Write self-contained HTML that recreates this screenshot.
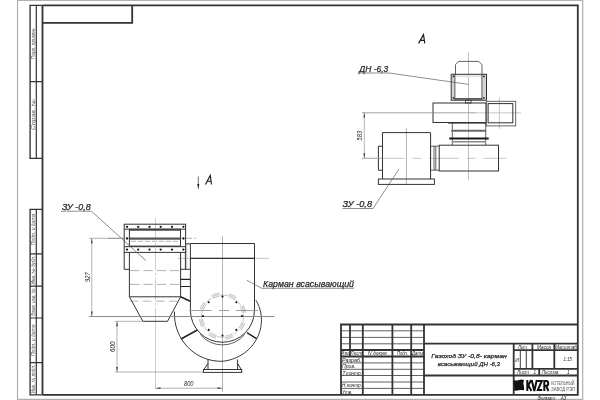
<!DOCTYPE html>
<html><head><meta charset="utf-8">
<style>
html,body{margin:0;padding:0;background:#fff;width:600px;height:400px;overflow:hidden}
svg{display:block;will-change:transform}
text{font-family:"Liberation Sans",sans-serif;font-style:italic;fill:#222}
.up{font-style:normal}
.st text{fill:#555}
.lb{stroke:#2a2a2a;stroke-width:0.25}
.k{stroke:#333;stroke-width:1.8;fill:none}
.m{stroke:#333;stroke-width:1;fill:none}
.t{stroke:#3a3a3a;stroke-width:0.8;fill:none}
.g{stroke:#b0b0b0;stroke-width:1.2;fill:none}
.c{stroke:#666;stroke-width:0.5;fill:none}
</style></head>
<body>
<svg width="600" height="400" viewBox="0 0 600 400">

<path class="g" d="M17.5 0V400M582.7 0V400M17.5 0.3H582.7M17.5 399.4H582.7"/>
<path class="k" d="M42.5 5.3H577.8V394.8H42.5"/>
<path class="k" d="M42.5 5.3V394.8"/>
<path class="k" style="stroke-width:1.35" d="M42.5 5.3H30.1V158.4H42.5M42.5 394.8H30.1V209.3H42.5"/>
<path class="k" style="stroke-width:1.2" d="M36.3 5.3V158.3M30 81.6H42.5"/>
<path class="k" style="stroke-width:1.2" d="M36.3 209.3V394.7M30 253.8H42.5M30 286.2H42.5M30 318H42.5M30 362.6H42.5"/>
<path class="k" d="M42.5 22.9H132.2V5.3"/>
<g class="st"><text transform="translate(34.9 43.3) rotate(-90)" text-anchor="middle" font-size="4.8" textLength="32" lengthAdjust="spacingAndGlyphs">Перв. примен.</text><text transform="translate(34.9 114.5) rotate(-90)" text-anchor="middle" font-size="4.8" textLength="31" lengthAdjust="spacingAndGlyphs">Справ. №</text><text transform="translate(34.9 229.4) rotate(-90)" text-anchor="middle" font-size="4.8" textLength="31.5" lengthAdjust="spacingAndGlyphs">Подп. и дата</text><text transform="translate(34.9 270) rotate(-90)" text-anchor="middle" font-size="4.8" textLength="29" lengthAdjust="spacingAndGlyphs">Инв. № дубл.</text><text transform="translate(34.9 302.2) rotate(-90)" text-anchor="middle" font-size="4.8" textLength="27.5" lengthAdjust="spacingAndGlyphs">Взам. инв. №</text><text transform="translate(34.9 340.3) rotate(-90)" text-anchor="middle" font-size="4.8" textLength="31.5" lengthAdjust="spacingAndGlyphs">Подп. и дата</text><text transform="translate(34.9 379) rotate(-90)" text-anchor="middle" font-size="4.8" textLength="28.5" lengthAdjust="spacingAndGlyphs">Инв. № подл.</text></g>
<path class="k" d="M341 394.8V324.5H577.8"/>
<path class="k" d="M350 324.5V356.5M362.8 324.5V394.7M392.4 324.5V394.7M411.2 324.5V394.7M424 324.5V394.7"/>
<path class="k" d="M341 350H424M341 356.5H424"/>
<path class="t" d="M341 330.8H424M341 337.4H424M341 343.8H424M341 362.9H424M341 369.3H424M341 375.5H424M341 382H424M341 388.4H424"/>
<path class="k" d="M424 343.7H577.8M424 375.5H577.8M513.7 343.7V394.7"/>
<path class="k" d="M513.7 350.2H577.8M532.4 343.7V368.9M554.3 343.7V368.9M513.7 368.9H577.8M539.2 368.9V375.5"/>
<path stroke="#3a3a3a" stroke-width="1" d="M520.3 350.2V368.9M526.3 350.2V368.9"/>
<text x="341.6" y="355.3" font-size="4.6" textLength="8" lengthAdjust="spacingAndGlyphs">Изм.</text><text x="350.6" y="355.3" font-size="4.6" textLength="11.6" lengthAdjust="spacingAndGlyphs">Лист</text><text x="368" y="355.3" font-size="4.6" textLength="20" lengthAdjust="spacingAndGlyphs">N докум.</text><text x="397" y="355.3" font-size="4.6" textLength="11" lengthAdjust="spacingAndGlyphs">Подп.</text><text x="412" y="355.3" font-size="4.6" textLength="11.6" lengthAdjust="spacingAndGlyphs">Дата</text><text x="342" y="361.8" font-size="4.6" textLength="19.5" lengthAdjust="spacingAndGlyphs">Разраб.</text><text x="342" y="368.2" font-size="4.6" textLength="13.5" lengthAdjust="spacingAndGlyphs">Пров.</text><text x="342.5" y="374.6" font-size="4.6" textLength="19.5" lengthAdjust="spacingAndGlyphs">Т.контр.</text><text x="342" y="387.3" font-size="4.6" textLength="20" lengthAdjust="spacingAndGlyphs">Н.контр.</text><text x="342" y="393.8" font-size="4.6" textLength="10.5" lengthAdjust="spacingAndGlyphs">Утв.</text><text x="431.3" y="357.8" font-size="6" textLength="75.4" lengthAdjust="spacingAndGlyphs" class="lb">Газоход ЗУ -0,8-  карман</text><text x="437.7" y="365.8" font-size="6" textLength="62.3" lengthAdjust="spacingAndGlyphs" class="lb">всасывающий ДН -6,3</text><text x="518" y="349.3" font-size="4.6" textLength="10" lengthAdjust="spacingAndGlyphs">Лит.</text><text x="537" y="349.3" font-size="4.6" textLength="14" lengthAdjust="spacingAndGlyphs">Масса</text><text x="555" y="349.3" font-size="4.6" textLength="22" lengthAdjust="spacingAndGlyphs">Масштаб</text><text x="515.2" y="361.5" font-size="5">И</text><text x="563.5" y="360.8" font-size="6" textLength="8.5" lengthAdjust="spacingAndGlyphs">1:15</text><text x="517" y="374.2" font-size="4.6" textLength="12" lengthAdjust="spacingAndGlyphs">Лист</text><text x="533.5" y="374.2" font-size="4.6">1</text><text x="541.7" y="374.2" font-size="4.6" textLength="16.8" lengthAdjust="spacingAndGlyphs">Листов</text><text x="567" y="374.2" font-size="4.6">1</text><text x="537.5" y="399.8" font-size="4.6" textLength="17.5" lengthAdjust="spacingAndGlyphs">Формат</text><text x="560.8" y="399.8" font-size="4.6" textLength="5.6" lengthAdjust="spacingAndGlyphs">А3</text>
<path d="M513.7 380Q516 381 518.8 380T524 380Q523 382.5 523.7 385.2T524 390.3Q521.5 389.5 518.8 390.3T513.7 390.3Q514.6 387.8 514 385.2T513.7 380Z" fill="#111"/>
<path stroke="#111" stroke-width="2" fill="none" d="M527.3 380V391M531.2 380L528.3 385.3L531.5 391M531.7 380L534.3 391L536.8 380M537.6 381H541.8L537.8 390H542.2M544.3 391V381H546.3Q548.2 381 548.2 383.4Q548.2 385.8 546.3 385.8H544.3M546.2 385.8L548.4 391"/>
<text class="up" x="551.2" y="385.3" font-size="4.8" style="fill:#555" textLength="23.3" lengthAdjust="spacingAndGlyphs">КОТЕЛЬНЫЙ</text>
<text class="up" x="551.2" y="390.6" font-size="4.8" style="fill:#555" textLength="24" lengthAdjust="spacingAndGlyphs">ЗАВОД РЭП</text>

<path stroke="#b0b0b0" stroke-width="0.8" d="M468.5 52.5V180.5"/>
<path stroke="#8a8a8a" stroke-width="0.8" d="M433 112.8H476"/><path stroke="#b0b0b0" stroke-width="0.7" d="M476 112.8H521"/>
<path stroke="#b0b0b0" stroke-width="0.7" d="M499.4 97V129"/>
<path class="c" style="stroke:#8a8a8a" stroke-dasharray="30 8 8.5 8" stroke-dashoffset="8" d="M382.5 158.3H506"/>
<path class="c" d="M406.4 128V185"/>
<path class="t" d="M455.5 74.3V64.6L458.8 61.4H478.7L482 64.6V74.3"/>
<rect x="451.8" y="75" width="3.1" height="24.6" fill="#d4d4d4"/>
<rect x="481.9" y="75" width="4" height="24.6" fill="#d4d4d4"/>
<rect x="455" y="75.2" width="27" height="2" fill="#e4e4e4"/>
<rect x="451.2" y="74.3" width="35.3" height="25.9" fill="none" stroke="#303030" stroke-width="1"/>
<path class="t" d="M454.9 74.3V100.2M481.9 74.3V100.2"/>
<path stroke="#333" stroke-width="1.4" d="M455 98.9H482"/>
<circle cx="453.5" cy="76.4" r="0.9" fill="#222"/><circle cx="483.9" cy="76.4" r="0.9" fill="#222"/>
<circle cx="453.5" cy="97.9" r="0.9" fill="#222"/><circle cx="483.9" cy="97.9" r="0.9" fill="#222"/>
<rect x="465.4" y="100.2" width="5.7" height="2.8" class="t"/>
<rect x="433" y="103" width="53" height="19.5" class="m"/>
<rect x="486.3" y="101.3" width="29.4" height="24.6" fill="none" stroke="#555" stroke-width="0.9"/>
<rect x="488.1" y="103.6" width="24.7" height="19.2" fill="none" stroke="#333" stroke-width="1"/>
<path class="t" d="M448.2 123.3H486.5"/>
<path class="t" d="M452.3 123V145.2M485.7 123V145.2"/>
<path stroke="#888" stroke-width="1.4" d="M452 141.8H486"/>
<path stroke="#6a6a6a" stroke-width="2" d="M451.3 130.8H486.2"/>
<path stroke="#1a1a1a" stroke-width="1.9" d="M449.2 138.5H488.7"/>
<rect x="439.2" y="145.2" width="59.3" height="25.8" class="m"/>
<path class="t" d="M430.5 146.2H439.2M430.5 170.2H439.2M434 146.2V170.2M435.8 146.2V170.2"/>
<path class="m" d="M382.5 179V132.6H430.6V179"/>
<path class="m" d="M430.5 146.2V170.2"/>
<path class="m" d="M382.5 146.2H378.4V170.2H382.5"/>
<rect x="378.4" y="179" width="56" height="5.4" class="m"/>
<path class="c" d="M364.3 112.8V158.3"/><path stroke="#8a8a8a" stroke-width="0.8" d="M362 112.8H433M362 158.3H382.5"/>
<path fill="#444" d="M364.3 112.5L363.4 117.5H365.2ZM364.3 158.3L363.4 153.3H365.2Z"/>
<text transform="translate(361.9 135.7) rotate(-90)" text-anchor="middle" font-size="6.8" textLength="10" lengthAdjust="spacingAndGlyphs">583</text><path stroke="#1a1a1a" stroke-width="1.15" fill="none" d="M418.6 43.4L423.5 34.6L424.8 43.4M420.3 40.3H424.4"/><text x="359.3" y="72.2" font-size="9.2" textLength="29" lengthAdjust="spacingAndGlyphs" class="lb">ДН -6,3</text>
<path stroke="#505050" stroke-width="0.65" fill="none" d="M359 73H389L468.7 84.4"/>
<text x="342.6" y="207.2" font-size="9.4" textLength="29.4" lengthAdjust="spacingAndGlyphs" class="lb">ЗУ -0,8</text>
<path stroke="#505050" stroke-width="0.65" fill="none" d="M342.5 208.5H373L399 169"/>

<path class="c" style="stroke:#999" stroke-dasharray="22 3 2 3" d="M155.5 218V321.3"/><path class="c" style="stroke:#999" d="M155.5 321.3V388.6"/>
<path class="c" d="M222.5 236V392"/>
<path class="c" stroke-dasharray="12 2 2 2" d="M108 238.3H196"/>
<path stroke="#a8a8a8" stroke-width="0.7" d="M178 258.3H269"/>
<path class="c" d="M89 238.3H124.2"/>
<rect x="124.2" y="224.2" width="61.4" height="28.2" class="m"/>
<path class="m" d="M124.2 229.2H185.6M124.2 246.7H185.6"/>
<rect x="129.4" y="229.2" width="51.1" height="16.9" class="m"/>
<path stroke="#5a5a5a" stroke-width="2.3" d="M130 238.6H180"/>
<path class="c" stroke-dasharray="5 2" d="M131 241.3H180"/>
<path class="t" d="M129.4 230.4H180.5"/>
<circle cx="127" cy="226.8" r="1.15" fill="#1a1a1a"/><circle cx="127" cy="249.6" r="1.15" fill="#1a1a1a"/><circle cx="138.2" cy="226.8" r="1.15" fill="#1a1a1a"/><circle cx="138.2" cy="249.6" r="1.15" fill="#1a1a1a"/><circle cx="149.5" cy="226.8" r="1.15" fill="#1a1a1a"/><circle cx="149.5" cy="249.6" r="1.15" fill="#1a1a1a"/><circle cx="160.7" cy="226.8" r="1.15" fill="#1a1a1a"/><circle cx="160.7" cy="249.6" r="1.15" fill="#1a1a1a"/><circle cx="172" cy="226.8" r="1.15" fill="#1a1a1a"/><circle cx="172" cy="249.6" r="1.15" fill="#1a1a1a"/><circle cx="183.4" cy="226.8" r="1.15" fill="#1a1a1a"/><circle cx="183.4" cy="249.6" r="1.15" fill="#1a1a1a"/>
<circle cx="127" cy="238.5" r="1.15" fill="#1a1a1a"/><circle cx="183.4" cy="238.5" r="1.15" fill="#1a1a1a"/>
<path class="m" d="M124.2 252.4V269.3H129.4M129.4 252.4V296.8M180.6 252.4V296.8M185.4 252.4V269.3"/>
<path class="m" d="M180.6 269.3H190"/>
<path stroke="#222" stroke-width="1.2" d="M180.6 279.3H190M180.6 286.5H190"/><path stroke="#999" stroke-width="0.6" d="M186.7 244V269.3"/>
<path class="m" stroke-width="1.2" d="M129.4 296.8H180.6L167.5 321.3H142.9Z"/>
<path class="c" stroke-dasharray="9.5 3.8" d="M130 270.6H180M130 284.4H180"/><path class="c" stroke-dasharray="8.7 4.5" d="M129.5 301.2H178"/>
<path stroke="#222" stroke-width="1.6" d="M180.6 296.8L190.2 301.2"/>
<path class="m" d="M185.6 243.8H190.4V310.2A32 32 0 0 0 254.5 310.2V243.5H190.4"/>
<path class="m" style="stroke-width:1.35" d="M190.4 258.3H254.5"/>
<path class="t" d="M200.3 334.6A29 29 0 0 0 244.7 334.6"/>
<path class="m" d="M255.85 300.15 L256.83 301.83 L257.73 303.57 L258.53 305.37 L259.25 307.22 L259.86 309.11 L260.38 311.05 L260.80 313.02 L261.12 315.03 L261.33 317.06 L261.43 319.11 L261.43 321.17 L261.31 323.24 L261.08 325.32 L260.74 327.39 L260.29 329.46 L259.73 331.50 L259.06 333.53 L258.28 335.53 L257.38 337.50 L256.38 339.42 L255.27 341.30 L254.06 343.13 L252.74 344.91 L251.33 346.62 L249.82 348.26 L248.21 349.82 L246.52 351.31 L244.74 352.72 L242.88 354.03 L240.94 355.25 L238.93 356.37 L236.86 357.39 L234.72 358.31 L232.52 359.11 L230.28 359.80 L227.99 360.37 L225.66 360.83 L223.29 361.16 L220.91 361.27 L218.52 361.20 L216.13 361.01 L213.75 360.70 L211.39 360.26 L209.05 359.69 L206.74 359.01 L204.46 358.20 L202.23 357.27 L200.04 356.22 L197.90 355.06 L195.83 353.79 L193.82 352.40 L191.89 350.92 L190.03 349.32 L188.25 347.63 L186.57 345.85 L184.97 343.98 L183.48 342.02 L182.08 339.99 L180.79 337.88 L179.62 335.70 L178.55 333.46 L177.61 331.16 L176.78 328.81 L176.08 326.42 L175.50 323.99 L175.05 321.53 L174.73 319.04 L174.53 316.54 L174.47 314.02 L174.55 311.50"/>
<path stroke="#222" stroke-width="1.5" d="M181 339L197.3 330M247 332.7L256.7 338.7"/>
<path stroke="#8c8c8c" stroke-width="1" d="M174.5 316.5H274.7"/>
<path stroke="#a0a0a0" stroke-width="1" d="M189 310.5H211.5M219 310.5H229M236 310.5H258"/>
<path stroke="#888" stroke-width="0.5" fill="none" d="M243.48 313.89A21.1 21.1 0 0 1 242.88 321.56M238.90 329.38A21.1 21.1 0 0 1 233.05 334.37M224.71 337.08A21.1 21.1 0 0 1 217.04 336.48M209.22 332.50A21.1 21.1 0 0 1 204.23 326.65M201.52 318.31A21.1 21.1 0 0 1 202.12 310.64M206.10 302.82A21.1 21.1 0 0 1 211.95 297.83M220.29 295.12A21.1 21.1 0 0 1 227.96 295.72M235.78 299.70A21.1 21.1 0 0 1 240.77 305.55"/>
<path stroke="#666" stroke-width="0.42" fill="none" d="M240.42 306.57A20.3 20.3 0 0 1 242.60 313.27M241.75 305.87A21.8 21.8 0 0 1 244.09 313.07M243.07 305.16A23.3 23.3 0 0 1 245.57 312.86M241.91 322.04A20.3 20.3 0 0 1 238.71 328.32M243.35 322.47A21.8 21.8 0 0 1 239.91 329.22M244.78 322.91A23.3 23.3 0 0 1 241.11 330.12M232.03 334.02A20.3 20.3 0 0 1 225.33 336.20M232.73 335.35A21.8 21.8 0 0 1 225.53 337.69M233.44 336.67A23.3 23.3 0 0 1 225.74 339.17M216.56 335.51A20.3 20.3 0 0 1 210.28 332.31M216.13 336.95A21.8 21.8 0 0 1 209.38 333.51M215.69 338.38A23.3 23.3 0 0 1 208.48 334.71M204.58 325.63A20.3 20.3 0 0 1 202.40 318.93M203.25 326.33A21.8 21.8 0 0 1 200.91 319.13M201.93 327.04A23.3 23.3 0 0 1 199.43 319.34M203.09 310.16A20.3 20.3 0 0 1 206.29 303.88M201.65 309.73A21.8 21.8 0 0 1 205.09 302.98M200.22 309.29A23.3 23.3 0 0 1 203.89 302.08M212.97 298.18A20.3 20.3 0 0 1 219.67 296.00M212.27 296.85A21.8 21.8 0 0 1 219.47 294.51M211.56 295.53A23.3 23.3 0 0 1 219.26 293.03M228.44 296.69A20.3 20.3 0 0 1 234.72 299.89M228.87 295.25A21.8 21.8 0 0 1 235.62 298.69M229.31 293.82A23.3 23.3 0 0 1 236.52 297.49"/>
<circle cx="242.00" cy="316.10" r="1.05" fill="#1a1a1a"/><circle cx="236.29" cy="329.89" r="1.05" fill="#1a1a1a"/><circle cx="222.50" cy="335.60" r="1.05" fill="#1a1a1a"/><circle cx="208.71" cy="329.89" r="1.05" fill="#1a1a1a"/><circle cx="203.00" cy="316.10" r="1.05" fill="#1a1a1a"/><circle cx="208.71" cy="302.31" r="1.05" fill="#1a1a1a"/><circle cx="222.50" cy="296.60" r="1.05" fill="#1a1a1a"/><circle cx="236.29" cy="302.31" r="1.05" fill="#1a1a1a"/>
<path class="m" d="M208 359.5V369.5M237.6 359.5V369.5M208 363.5L203.8 369.5M237.6 363.5L241.3 369.5"/>
<rect x="203.4" y="369.5" width="38.3" height="2.9" class="m"/>
<path class="c" d="M91.8 238.3V316.5"/><path stroke="#8c8c8c" stroke-width="1" d="M89 316.5H174.5"/>
<path fill="#444" d="M91.8 238.3L90.9 243.3H92.7ZM91.8 316.5L90.9 311.5H92.7Z"/>
<text transform="translate(89.5 277.2) rotate(-90)" text-anchor="middle" font-size="6.8" textLength="9.4" lengthAdjust="spacingAndGlyphs">927</text>
<path class="c" d="M115 321.3H142.9M115 372H203.4M117 321.3V372"/>
<path fill="#444" d="M117 321.3L116.1 326.3H117.9ZM117 372L116.1 367H117.9Z"/>
<text transform="translate(115 346.8) rotate(-90)" text-anchor="middle" font-size="6.8" textLength="10.3" lengthAdjust="spacingAndGlyphs">600</text>
<path class="c" d="M155.5 388.2H222.5"/>
<path fill="#444" d="M155.5 388.2L160.5 387.3V389.1ZM222.5 388.2L217.5 387.3V389.1Z"/>
<text x="184" y="386" font-size="6.8" textLength="9.5" lengthAdjust="spacingAndGlyphs">800</text>
<path stroke="#333" stroke-width="0.7" d="M198.3 176.5V186"/>
<path fill="#222" d="M198.3 190L197.3 184H199.3Z"/>
<path stroke="#1a1a1a" stroke-width="1.15" fill="none" d="M205.5 184.5L210.2 175.3L211.5 184.5M207.4 181.2H211.1"/>
<text x="62" y="210" font-size="9.2" textLength="28.6" lengthAdjust="spacingAndGlyphs" class="lb">ЗУ -0,8</text>
<path stroke="#505050" stroke-width="0.65" fill="none" d="M61 211.2H91.5L146 260.7"/>
<text x="263" y="286.5" font-size="9.2" textLength="91" lengthAdjust="spacingAndGlyphs" class="lb">Карман всасывающий</text>
<path stroke="#505050" stroke-width="0.65" fill="none" d="M246.7 280.2L261.7 288.3H354"/>

</svg>
</body></html>
